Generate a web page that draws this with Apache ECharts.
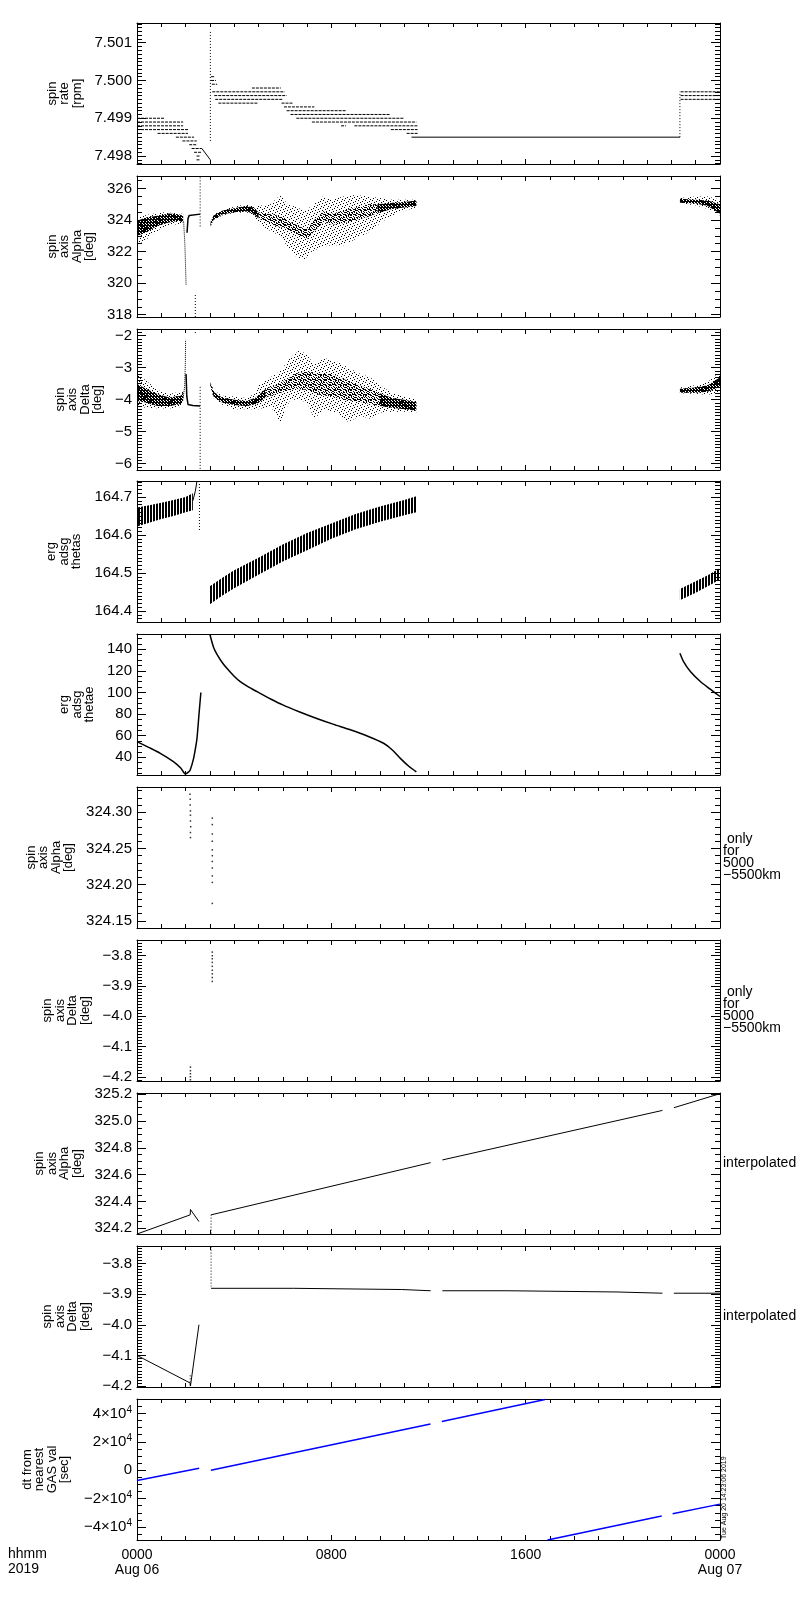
<!DOCTYPE html>
<html>
<head>
<meta charset="utf-8">
<title>spin axis</title>
<script src="https://cdn.jsdelivr.net/npm/echarts@6/dist/echarts.min.js"></script>
<style>
  html, body { margin: 0; padding: 0; background: #fff; }
  #chart { width: 800px; height: 1600px; }
</style>
</head>
<body>
<div id="chart"></div>
<script>
'use strict';

/*-----------------------------------------------
|  Data (x in hours after 0000 UT, Aug 06 2019)
-----------------------------------------------*/

const xTickLabels = ['0000\nAug 06', '0800', '1600', '0000\nAug 07'];

// panel 1: spin rate, quantised levels [fromHour, toHour, rpm]
const rateLevels = [
  [0.00, 1.15, 7.49900], [0.00, 1.90, 7.49890], [0.00, 1.90, 7.49880], [0.00, 2.10, 7.49870],
  [0.85, 2.10, 7.49860], [1.60, 2.35, 7.49850], [1.87, 2.46, 7.49840], [2.15, 2.45, 7.49830],
  [2.25, 2.67, 7.49820], [2.35, 2.67, 7.49810], [2.45, 2.58, 7.49800], [2.45, 2.58, 7.49790],
  [3.05, 3.20, 7.50010], [3.05, 3.25, 7.50000], [3.08, 3.30, 7.49990],
  [4.73, 5.92, 7.49980], [3.10, 6.08, 7.49970], [3.18, 6.16, 7.49960], [3.22, 6.00, 7.49950],
  [3.35, 4.97, 7.49940], [5.95, 6.40, 7.49940], [6.05, 7.30, 7.49930], [6.16, 8.60, 7.49920],
  [6.32, 10.40, 7.49910], [6.56, 11.00, 7.49900], [7.20, 11.50, 7.49890], [8.40, 8.60, 7.49880],
  [8.95, 11.55, 7.49880], [10.45, 11.55, 7.49870], [11.10, 11.55, 7.49860],
  [22.38, 24.00, 7.49970], [22.38, 24.00, 7.49960], [22.38, 24.00, 7.49950]
];
const rateLines = [
  [[11.30, 7.49850], [22.35, 7.49850]],
  [[2.67, 7.49820], [3.02, 7.49790]]
];
// vertical runs of points [hour, fromValue, toValue]
const rateRuns = [[3.02, 7.49840, 7.50130], [22.35, 7.49850, 7.49970]];

// panel 2: spin axis alpha, envelopes [hour, low, high]
const alphaCloud = [
  [[0.0, 322.4, 324.2], [0.5, 322.9, 324.35], [1.0, 323.5, 324.5], [1.5, 323.7, 324.45], [1.9, 323.8, 324.4]],
  [[3.03, 323.6, 323.95], [3.15, 323.95, 324.35], [3.5, 324.3, 324.65], [4.0, 324.45, 324.85],
   [4.5, 324.5, 325.0], [4.8, 324.3, 324.9], [5.0, 323.8, 324.9], [5.5, 323.3, 325.0],
   [5.9, 323.0, 325.6], [6.2, 322.3, 325.0], [6.6, 321.6, 324.8], [6.9, 321.5, 324.6],
   [7.2, 322.0, 324.9], [7.6, 322.3, 325.5], [8.0, 322.4, 325.3], [8.5, 322.4, 325.5],
   [9.0, 322.8, 325.6], [9.5, 323.2, 325.5], [10.0, 323.8, 325.4], [10.5, 324.3, 325.3],
   [11.0, 324.6, 325.3], [11.5, 324.8, 325.3]],
  [[22.35, 325.05, 325.4], [23.0, 324.95, 325.5], [23.5, 324.7, 325.5], [24.0, 324.3, 325.3]]
];
const alphaCore = [
  [[0.0, 323.0, 323.96], [0.37, 323.22, 324.17], [0.84, 323.64, 324.27], [1.32, 323.85, 324.42],
   [1.71, 323.96, 324.38], [1.9, 323.85, 324.27]],
  [[3.03, 323.6, 323.9], [3.15, 324.0, 324.3], [3.5, 324.35, 324.6], [4.0, 324.5, 324.75],
   [4.5, 324.55, 324.9], [4.8, 324.4, 324.8], [5.0, 324.1, 324.5]],
  [[9.9, 324.45, 325.0], [10.5, 324.7, 325.1], [11.0, 324.8, 325.15], [11.5, 324.9, 325.25]],
  [[22.35, 325.1, 325.35], [23.0, 325.05, 325.3], [23.5, 324.9, 325.25], [24.0, 324.4, 325.0]]
];
const alphaMid = [
  [[5.0, 324.1, 324.5], [5.3, 323.9, 324.4], [5.6, 323.7, 324.35], [6.0, 323.5, 324.2],
   [6.3, 323.3, 323.9], [6.7, 323.0, 323.6], [7.0, 322.8, 323.4], [7.3, 323.3, 324.0],
   [7.7, 323.9, 324.6], [8.0, 323.7, 324.4], [8.5, 323.8, 324.6], [9.0, 324.0, 324.8],
   [9.5, 324.2, 325.0], [9.9, 324.45, 325.0]]
];
const alphaDotted = [[[1.92, 323.9], [1.97, 322.5], [2.0, 321.0], [2.02, 319.85]]];
const alphaLines = [[[2.06, 323.2], [2.1, 324.1], [2.15, 324.3], [2.6, 324.38]]];
const alphaRuns = [[2.6, 323.6, 326.8], [2.4, 317.85, 319.3]];

// panel 3: spin axis delta, envelopes [hour, low, high]
const deltaCloud = [
  [[0.0, -4.2, -3.19], [0.37, -4.25, -3.4], [0.84, -4.27, -3.7], [1.32, -4.28, -3.82],
   [1.8, -4.23, -3.75], [1.9, -4.1, -3.7]],
  [[3.02, -3.6, -3.42], [3.15, -3.95, -3.7], [3.5, -4.15, -3.88], [4.0, -4.3, -3.9],
   [4.5, -4.3, -3.95], [4.9, -4.3, -3.8], [5.0, -4.3, -3.55], [5.5, -4.2, -3.3],
   [5.9, -4.72, -3.1], [6.3, -4.0, -2.7], [6.7, -4.0, -2.45], [7.0, -4.1, -2.6],
   [7.3, -4.6, -2.9], [7.7, -4.3, -2.7], [8.2, -4.4, -2.8], [8.7, -4.7, -3.0],
   [9.2, -4.5, -3.2], [9.6, -4.6, -3.3], [10.0, -4.4, -3.55], [10.5, -4.38, -3.8],
   [11.0, -4.38, -3.9], [11.5, -4.4, -4.0]],
  [[22.35, -3.8, -3.62], [23.0, -3.82, -3.55], [23.5, -3.85, -3.45], [24.0, -3.77, -3.13]]
];
const deltaCore = [
  [[0.0, -4.04, -3.51], [0.37, -4.09, -3.66], [0.84, -4.2, -3.82], [1.32, -4.2, -3.93],
   [1.8, -4.14, -3.88], [1.9, -4.04, -3.77]],
  [[3.02, -3.55, -3.45], [3.15, -3.9, -3.75], [3.5, -4.09, -3.93], [4.0, -4.17, -4.0],
   [4.5, -4.2, -4.04], [4.9, -4.14, -3.93], [5.3, -3.93, -3.66]],
  [[10.0, -4.2, -3.8], [10.5, -4.25, -3.95], [11.0, -4.3, -4.0], [11.5, -4.35, -4.07]],
  [[22.35, -3.78, -3.66], [23.0, -3.78, -3.62], [23.5, -3.75, -3.55], [24.0, -3.6, -3.3]]
];
const deltaMid = [
  [[5.3, -3.93, -3.66], [5.7, -3.82, -3.56], [6.0, -3.77, -3.45], [6.5, -3.66, -3.2],
   [7.0, -3.7, -3.1], [7.5, -3.85, -3.2], [8.0, -3.9, -3.2], [8.5, -4.0, -3.35],
   [9.0, -4.05, -3.5], [9.5, -4.12, -3.65], [10.0, -4.2, -3.8]]
];
const deltaDotted = [[[1.9, -3.95], [1.96, -3.6], [1.99, -2.9], [2.0, -2.13]]];
const deltaLines = [[[2.02, -3.2], [2.05, -3.9], [2.1, -4.15], [2.3, -4.18], [2.6, -4.2]]];
const deltaRuns = [[2.6, -3.6, -6.2], [2.4, -1.79, -1.95]];

// panel 4: erg adsg thetas, hatched band [hour, low, high]
const thetasBand = [
  [[0.0, 164.622, 164.672], [0.5, 164.632, 164.678], [1.0, 164.642, 164.685], [1.5, 164.65, 164.692],
   [2.0, 164.66, 164.7], [2.3, 164.665, 164.71]],
  [[3.0, 164.418, 164.465], [3.5, 164.44, 164.487], [4.0, 164.46, 164.507], [5.0, 164.495, 164.54],
   [6.0, 164.53, 164.575], [7.0, 164.56, 164.605], [8.0, 164.59, 164.63], [9.0, 164.615, 164.655],
   [10.0, 164.635, 164.675], [11.0, 164.652, 164.692], [11.5, 164.66, 164.702]],
  [[22.35, 164.428, 164.458], [23.0, 164.448, 164.478], [23.5, 164.465, 164.494], [24.0, 164.483, 164.513]]
];
const thetasLines = [[[2.3, 164.69], [2.4, 164.715], [2.47, 164.742]]];
const thetasRuns = [[2.57, 164.742, 164.608]];

// panel 5: erg adsg thetae
const thetaeLines = [
  [[0.0, 54.5], [0.5, 49.0], [0.96, 43.7], [1.5, 36.0], [1.8, 30.0], [2.0, 24.5], [2.1, 26.0],
   [2.19, 28.3], [2.33, 39.0], [2.42, 50.0], [2.47, 57.6], [2.56, 82.0], [2.63, 100.0]],
  [[3.0, 154.0], [3.15, 142.0], [3.3, 135.0], [3.5, 128.0], [3.7, 122.4], [4.0, 115.0], [4.25, 110.0],
   [4.6, 105.0], [4.94, 100.8], [5.5, 94.0], [6.0, 88.5], [6.7, 82.0], [7.4, 76.0], [8.1, 70.5],
   [8.78, 65.5], [9.5, 59.5], [10.15, 53.0], [10.5, 47.0], [10.84, 39.0], [11.2, 31.5], [11.5, 26.5]],
  [[22.35, 136.3], [22.5, 128.6], [22.78, 119.4], [23.19, 110.2], [23.6, 103.1], [24.0, 96.3]]
];

// panels 6, 7: points only for 5000-5500 km
const alphaOnlyPoints = [
  [2.18, 324.325], [2.19, 324.318], [2.19, 324.31], [2.2, 324.302], [2.2, 324.296], [2.2, 324.288],
  [2.21, 324.28], [2.2, 324.272], [2.2, 324.265],
  [3.1, 324.292], [3.1, 324.283], [3.1, 324.27], [3.1, 324.26], [3.1, 324.248], [3.1, 324.24],
  [3.1, 324.232], [3.1, 324.223], [3.1, 324.212], [3.1, 324.203], [3.1, 324.174]
];
const deltaOnlyPoints = [
  [3.1, -3.788], [3.1, -3.8], [3.1, -3.81], [3.1, -3.822], [3.1, -3.835], [3.1, -3.848],
  [3.1, -3.86], [3.1, -3.872], [3.1, -3.885],
  [2.2, -4.168], [2.2, -4.18], [2.2, -4.19], [2.2, -4.2], [2.2, -4.21]
];

// panels 8, 9: interpolated
const alphaInterp = [
  [[0.0, 324.157], [2.19, 324.30], [2.2, 324.34], [2.55, 324.25]],
  [[3.05, 324.30], [12.09, 324.69]],
  [[12.57, 324.71], [21.63, 325.08]],
  [[22.1, 325.10], [24.0, 325.205]]
];
const alphaInterpRuns = [[3.05, 324.16, 324.30]];
const deltaInterp = [
  [[0.0, -4.10], [2.19, -4.19], [2.2, -4.20], [2.55, -4.00]],
  [[3.05, -3.881], [6.45, -3.881], [6.45, -3.885], [10.9, -3.885], [10.9, -3.889], [12.09, -3.889]],
  [[12.57, -3.889], [15.27, -3.889], [15.27, -3.893], [19.76, -3.893], [19.76, -3.897], [21.63, -3.897]],
  [[22.1, -3.897], [24.0, -3.897]]
];
const deltaInterpRuns = [[3.05, -3.745, -3.875], [2.19, -4.165, -4.20]];

// panel 10: dt from nearest GAS value [sec]
const dtLines = [
  [[0.0, -7300], [2.56, 1400]],
  [[3.04, 0], [12.08, 32500]],
  [[12.55, 34300], [16.8, 49900]],
  [[16.9, -49200], [21.6, -32300]],
  [[22.05, -30700], [24.0, -23900]]
];

/*-----------------------------------------------
|  Layout
-----------------------------------------------*/

const panelTops = [23, 176, 329, 481, 634, 787, 940, 1093, 1246, 1399];
const panelAxes = [
  { name: 'spin\nrate\n[rpm]', min: 7.49779, max: 7.50152, step: 0.001, minor: 10, digits: 3, gap: 52 },
  { name: 'spin\naxis\nAlpha\n[deg]', min: 317.85, max: 326.8, step: 2, minor: 4, digits: 0, gap: 39 },
  { name: 'spin\naxis\nDelta\n[deg]', min: -6.2, max: -1.79, step: 1, minor: 10, digits: 0, gap: 33 },
  { name: 'erg\nadsg\nthetas', min: 164.371, max: 164.742, step: 0.1, minor: 10, digits: 1, gap: 54 },
  { name: 'erg\nadsg\nthetae', min: 23.6, max: 154.2, step: 20, minor: 4, digits: 0, gap: 40 },
  { name: 'spin\naxis\nAlpha\n[deg]', min: 324.14, max: 324.335, step: 0.05, minor: 5, digits: 2, gap: 60,
    note: ' only\nfor\n5000\n\u22125500km', shift: 27 },
  { name: 'spin\naxis\nDelta\n[deg]', min: -4.214, max: -3.748, step: 0.1, minor: 10, digits: 1, gap: 45,
    note: ' only\nfor\n5000\n\u22125500km', shift: 27 },
  { name: 'spin\naxis\nAlpha\n[deg]', min: 324.157, max: 325.21, step: 0.2, minor: 4, digits: 1, gap: 52,
    note: 'interpolated', shift: 17 },
  { name: 'spin\naxis\nDelta\n[deg]', min: -4.203, max: -3.743, step: 0.1, minor: 10, digits: 1, gap: 45,
    note: 'interpolated', shift: 16 },
  { name: 'dt from\nnearest\nGAS val\n[sec]', min: -49200, max: 50200, step: 20000, minor: 4, sci: true, gap: 66 }
];

const font = 'Liberation Sans';
const ink = '#000';
const blue = '#0000ff';

function makePattern(w, h, dots) {
  const c = document.createElement('canvas');
  c.width = w;
  c.height = h;
  const ctx = c.getContext('2d');
  ctx.fillStyle = ink;
  dots.forEach(d => ctx.fillRect(d[0], d[1], 1, 1));
  return { image: c, repeat: 'repeat' };
}

// stipple textures standing in for the dense scatter of samples
const cloudFill = makePattern(7, 7, [[0, 0], [4, 1], [2, 2], [6, 3], [1, 4], [5, 5], [3, 6]]);
const midFill = makePattern(5, 5, [[0, 0], [1, 0], [3, 1], [4, 2], [1, 2], [2, 3], [0, 4], [3, 4], [4, 4]]);
const coreFill = makePattern(3, 3, [[0, 0], [1, 0], [2, 0], [0, 1], [2, 1], [0, 2], [1, 2]]);
const hatchFill = makePattern(3, 1, [[0, 0], [1, 0]]);

function tickFormatter(p) {
  return v => {
    if (p.sci) {
      if (v === 0) return '0';
      return '{b|' + (v < 0 ? '\u2212' : '') + Math.abs(v / 10000) + '\u00d710}{s|4}';
    }
    return (v < 0 ? '\u2212' : '') + Math.abs(v).toFixed(p.digits);
  };
}

/*-----------------------------------------------
|  Series builders
-----------------------------------------------*/

function bandSeries(i, bands, fill) {
  return {
    type: 'custom', xAxisIndex: 2 * i, yAxisIndex: 2 * i, clip: true, silent: true,
    data: bands.map((b, k) => [b[0][0], b[0][1], k]),
    renderItem: (params, api) => {
      const band = bands[api.value(2)];
      const upper = band.map(p => api.coord([p[0], p[2]]));
      const lower = band.slice().reverse().map(p => api.coord([p[0], p[1]]));
      return { type: 'polygon', shape: { points: upper.concat(lower) }, style: { fill: fill } };
    }
  };
}

// rows are [x0, y0, x1, y1]
function segmentSeries(i, rows, color, dash, width) {
  return {
    type: 'custom', xAxisIndex: 2 * i, yAxisIndex: 2 * i, clip: true, silent: true,
    encode: { x: [0, 2], y: [1, 3] },
    data: rows,
    renderItem: (params, api) => {
      const a = api.coord([api.value(0), api.value(1)]);
      const b = api.coord([api.value(2), api.value(3)]);
      return {
        type: 'line',
        shape: { x1: a[0], y1: a[1], x2: b[0], y2: b[1] },
        style: { stroke: color, lineWidth: width, lineDash: dash }
      };
    }
  };
}

const levelRows = rows => rows.map(r => [r[0], r[2], r[1], r[2]]);
const runRows = rows => rows.map(r => [r[0], r[1], r[0], r[2]]);

function lineSeries(i, lines, color, width, type, smooth) {
  return lines.map(pts => ({
    type: 'line', xAxisIndex: 2 * i, yAxisIndex: 2 * i, data: pts,
    symbol: 'none', showSymbol: false, clip: true, silent: true,
    smooth: smooth || false,
    lineStyle: { color: color, width: width, type: type || 'solid' }
  }));
}

function pointSeries(i, pts) {
  return {
    type: 'scatter', xAxisIndex: 2 * i, yAxisIndex: 2 * i, data: pts,
    symbol: 'rect', symbolSize: [1.5, 1.5], silent: true, itemStyle: { color: ink }
  };
}

/*-----------------------------------------------
|  Axes
-----------------------------------------------*/

const grids = [];
const xAxes = [];
const yAxes = [];

panelAxes.forEach((p, i) => {
  grids.push({ left: 137, right: 80, top: panelTops[i], height: 141, containLabel: false });

  const xCommon = {
    type: 'value', gridIndex: i, min: 0, max: 24, interval: 8,
    axisLine: { show: true, onZero: false, lineStyle: { color: ink, width: 1 } },
    axisTick: { show: true, inside: true, length: 5, lineStyle: { color: ink } },
    minorTick: { show: true, splitNumber: 8, length: 4, lineStyle: { color: ink } },
    splitLine: { show: false }
  };
  xAxes.push(Object.assign({}, xCommon, {
    position: 'bottom',
    axisLabel: i === 9 ? {
      show: true, margin: 8, color: ink, fontFamily: font, fontSize: 14, lineHeight: 15,
      formatter: v => xTickLabels[Math.round(v / 8)]
    } : { show: false }
  }));
  xAxes.push(Object.assign({}, xCommon, { position: 'top', axisLabel: { show: false } }));

  const yCommon = {
    type: 'value', gridIndex: i, min: p.min, max: p.max,
    minInterval: p.step, maxInterval: p.step, splitNumber: 4,
    axisLine: { show: true, onZero: false, lineStyle: { color: ink, width: 1 } },
    axisTick: { show: true, inside: true, length: 9, lineStyle: { color: ink } },
    minorTick: { show: true, splitNumber: p.minor, length: 5, lineStyle: { color: ink } },
    splitLine: { show: false }
  };
  yAxes.push(Object.assign({}, yCommon, {
    position: 'left',
    name: p.name, nameLocation: 'middle', nameRotate: 90, nameGap: p.gap,
    nameTextStyle: { color: ink, fontFamily: font, fontSize: 13, lineHeight: 12.5 },
    axisLabel: {
      show: true, margin: 5, color: ink, fontFamily: font, fontSize: 15,
      showMinLabel: false, showMaxLabel: false,
      formatter: tickFormatter(p),
      rich: {
        b: { fontFamily: font, fontSize: 15, color: ink },
        s: { fontFamily: font, fontSize: 10, color: ink, verticalAlign: 'top', padding: [0, 0, 7, 0] }
      }
    }
  }));
  yAxes.push(Object.assign({}, yCommon, {
    position: 'right',
    name: p.note || '', nameLocation: 'middle', nameRotate: 0, nameGap: 3,
    nameTextStyle: {
      color: ink, fontFamily: font, fontSize: 14, lineHeight: 12, align: 'left',
      padding: [p.shift || 0, 0, 0, 0]
    },
    axisLabel: { show: false }
  }));
});

/*-----------------------------------------------
|  Series
-----------------------------------------------*/

const series = [].concat(
  // panel 1
  segmentSeries(0, levelRows(rateLevels), ink, [3, 1], 1),
  segmentSeries(0, runRows(rateRuns), ink, [1, 2], 1),
  lineSeries(0, rateLines, ink, 1),
  // panel 2
  bandSeries(1, alphaCloud, cloudFill),
  bandSeries(1, alphaMid, midFill),
  bandSeries(1, alphaCore, coreFill),
  lineSeries(1, alphaDotted, ink, 1, 'dotted'),
  lineSeries(1, alphaLines, ink, 1.5),
  segmentSeries(1, runRows(alphaRuns), ink, [1, 2], 1),
  // panel 3
  bandSeries(2, deltaCloud, cloudFill),
  bandSeries(2, deltaMid, midFill),
  bandSeries(2, deltaCore, coreFill),
  lineSeries(2, deltaDotted, ink, 1, 'dotted'),
  lineSeries(2, deltaLines, ink, 1.5),
  segmentSeries(2, runRows(deltaRuns), ink, [1, 2], 1),
  // panel 4
  bandSeries(3, thetasBand, hatchFill),
  lineSeries(3, thetasLines, ink, 1),
  segmentSeries(3, runRows(thetasRuns), ink, [1, 2], 1),
  // panel 5
  lineSeries(4, thetaeLines, ink, 1.5, 'solid', 0.25),
  // panels 6, 7
  pointSeries(5, alphaOnlyPoints),
  pointSeries(6, deltaOnlyPoints),
  // panel 8
  lineSeries(7, alphaInterp, ink, 1),
  segmentSeries(7, runRows(alphaInterpRuns), ink, [1, 2], 1),
  // panel 9
  lineSeries(8, deltaInterp, ink, 1),
  segmentSeries(8, runRows(deltaInterpRuns), ink, [1, 2], 1),
  // panel 10
  lineSeries(9, dtLines, blue, 1.5)
);

const chart = echarts.init(document.getElementById('chart'), null, { renderer: 'canvas' });
chart.setOption({
  animation: false,
  backgroundColor: '#fff',
  grid: grids,
  xAxis: xAxes,
  yAxis: yAxes,
  series: series,
  graphic: [
    {
      type: 'text', left: 8, top: 1547,
      style: { text: 'hhmm\n2019', fill: ink, fontFamily: font, fontSize: 14, lineHeight: 15 }
    },
    {
      type: 'text', left: 721, bottom: 61, rotation: Math.PI / 2,
      style: { text: 'Tue Aug 20 14:23:06 2019', fill: ink, fontFamily: font, fontSize: 7 }
    }
  ]
});

window.addEventListener('resize', () => chart.resize());
</script>
</body>
</html>
